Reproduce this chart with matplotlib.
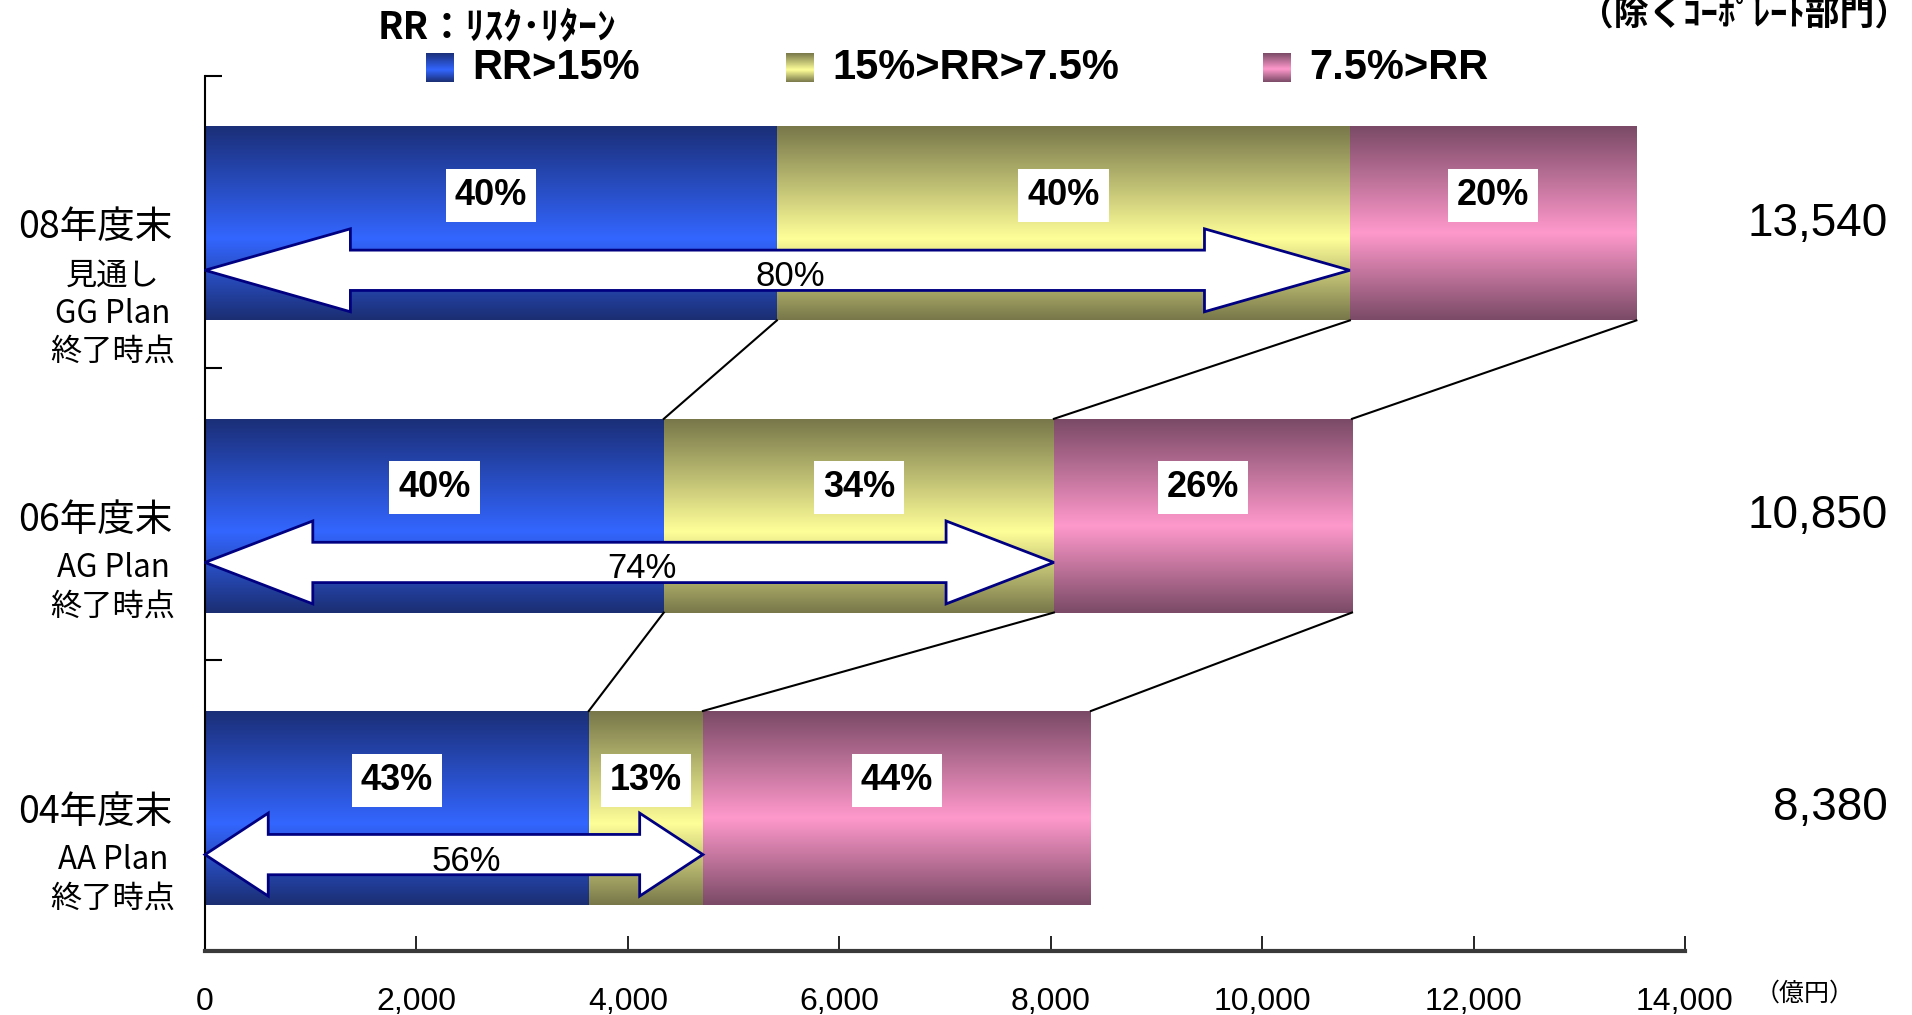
import numpy as np
import matplotlib
matplotlib.use("Agg")
import matplotlib.pyplot as plt
from matplotlib import font_manager
from matplotlib.colors import LinearSegmentedColormap
from matplotlib.patches import Polygon

# data (億円), bottom row first
years = ["04年度末", "06年度末", "08年度末"]
sub_lines = [["AA Plan", "終了時点"],
             ["AG Plan", "終了時点"],
             ["見通し", "GG Plan", "終了時点"]]
rr_high = [3630, 4340, 5410]
rr_mid = [1080, 3690, 5420]
rr_low = [3670, 2820, 2710]
pct_high = ["43%", "40%", "40%"]
pct_mid = ["13%", "34%", "40%"]
pct_low = ["44%", "26%", "20%"]
arrow_pct = ["56%", "74%", "80%"]
xticks = [0, 2000, 4000, 6000, 8000, 10000, 12000, 14000]
series_names = ["RR>15%", "15%>RR>7.5%", "7.5%>RR"]

installed = {f.name for f in font_manager.fontManager.ttflist}
narrow = "Liberation Sans Narrow" if "Liberation Sans Narrow" in installed else "Liberation Sans"
NARROW = [narrow, "Noto Sans CJK JP", "DejaVu Sans"]
ARIAL = ["Liberation Sans", "Noto Sans CJK JP", "DejaVu Sans"]
JP = ["Noto Sans CJK JP", "DejaVu Sans"]

# dark edge -> bright band -> dark edge
cmaps = [
    LinearSegmentedColormap.from_list("b", [(0, "#1b2f78"), (0.58, "#3366ff"), (1, "#1b2e72")]),
    LinearSegmentedColormap.from_list("y", [(0, "#77774a"), (0.58, "#ffff99"), (1, "#77774a")]),
    LinearSegmentedColormap.from_list("p", [(0, "#7a4a66"), (0.55, "#ff99cc"), (1, "#7a4a66")]),
]
grad = np.linspace(0, 1, 256).reshape(-1, 1)

fig = plt.figure(figsize=(19.12, 10.15), dpi=100)
ax = fig.add_axes([205 / 1912, 64 / 1015, 1480 / 1912, 875 / 1015])

ypos = np.arange(len(years))
h = 0.663
segs = np.array([rr_high, rr_mid, rr_low])
lefts = np.vstack([np.zeros(len(years)), np.cumsum(segs, axis=0)[:-1]])
pcts = [pct_high, pct_mid, pct_low]

for s in range(3):
    for i, y in enumerate(ypos):
        l, w = lefts[s][i], segs[s][i]
        ax.imshow(grad, cmap=cmaps[s], extent=[l, l + w, y - h / 2, y + h / 2],
                  aspect="auto", origin="upper", interpolation="bicubic", zorder=1)
        ax.text(l + w / 2, y + 0.095, pcts[s][i], ha="center", va="center",
                fontsize=26, fontweight="bold", family=NARROW, zorder=5,
                bbox=dict(boxstyle="square,pad=0.25", fc="white", ec="none"))

# connector lines between bars
ends = np.cumsum(segs, axis=0)
for i in range(len(years) - 1):
    for s in range(3):
        ax.plot([ends[s][i + 1], ends[s][i]], [ypos[i + 1] - h / 2, ypos[i] + h / 2],
                color="black", lw=1.5, zorder=2)

# double arrows up to the end of the middle segment
for i, y in enumerate(ypos):
    L = ends[1][i]
    hl = 0.127 * L
    yc = y - 0.16
    hh, sh = 0.142, 0.069
    pts = [(0, yc), (hl, yc + hh), (hl, yc + sh), (L - hl, yc + sh), (L - hl, yc + hh),
           (L, yc), (L - hl, yc - hh), (L - hl, yc - sh), (hl, yc - sh), (hl, yc - hh)]
    ax.add_patch(Polygon(pts, closed=True, fc="white", ec="#000080", lw=2, zorder=3,
                         clip_on=False))
    ax.text(L / 2 + 120, yc - 0.022, arrow_pct[i], ha="center", va="center",
            fontsize=25, family=ARIAL, zorder=4)

# totals on the right
for i, y in enumerate(ypos):
    ax.text(15920, y, f"{ends[2][i]:,.0f}", ha="right", va="center",
            fontsize=33, family=ARIAL, clip_on=False)

# category labels on the left
for i, y in enumerate(ypos):
    ax.text(-1035, y - 0.015, years[i], ha="center", va="center", fontsize=27, family=JP)
    for k, line in enumerate(sub_lines[i]):
        ax.text(-870, y - 0.18 - 0.13 * k, line, ha="center", va="center",
                fontsize=22.5, family=JP)

ax.set_xlim(0, 14000)
ax.set_ylim(-0.49, 2.505)
ax.set_xticks(xticks)
ax.set_xticklabels([f"{v:,}" for v in xticks], family=NARROW, fontsize=23)
ax.set_yticks([0.505, 1.505, 2.505])
ax.set_yticklabels([])
ax.tick_params(axis="x", direction="in", length=11, width=1.2, pad=26)
ax.tick_params(axis="y", direction="in", length=12, width=1.5)
for side in ["top", "right"]:
    ax.spines[side].set_visible(False)
ax.spines["left"].set_linewidth(1.5)
ax.spines["bottom"].set_linewidth(3)
ax.spines["bottom"].set_color("#3a3a3a")

# legend
fig.text(378 / 1912, 1 - 27 / 1015, "RR：ﾘｽｸ･ﾘﾀｰﾝ", ha="left", va="center",
         fontsize=27, fontweight="bold", family=JP)
sw_x = [426, 786, 1263]
for s in range(3):
    sw = fig.add_axes([sw_x[s] / 1912, 1 - 82 / 1015, 28 / 1912, 29 / 1015])
    sw.imshow(grad, cmap=cmaps[s], aspect="auto", origin="upper", interpolation="bicubic")
    sw.axis("off")
    fig.text((sw_x[s] + 46) / 1912, 1 - 68 / 1015, series_names[s], ha="left", va="center",
             fontsize=30, fontweight="bold", family=NARROW)

fig.text(1744 / 1912, 1 - 14 / 1015, "（除くｺｰﾎﾟﾚｰﾄ部門）", ha="center", va="center",
         fontsize=25, fontweight="bold", family=JP)
fig.text(1805 / 1912, 1 - 994 / 1015, "（億円）", ha="center", va="center",
         fontsize=18, family=JP)

fig.savefig("out.png", dpi=100)
